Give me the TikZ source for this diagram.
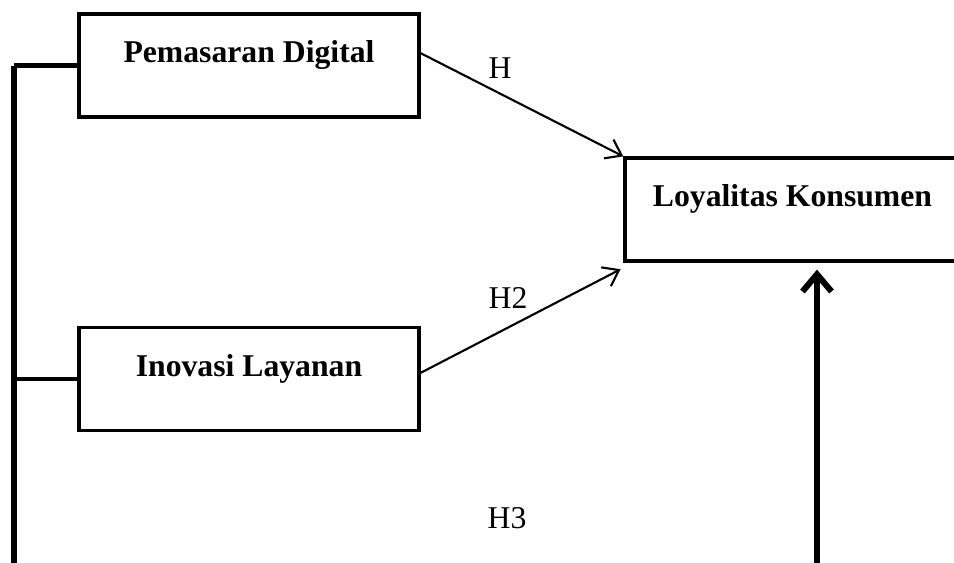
\documentclass[tikz,border=0pt]{standalone}
\usepackage{fontspec}
\setmainfont{Liberation Serif}
\usetikzlibrary{arrows.meta,calc}

\begin{document}
\begin{tikzpicture}[x=0.0133cm,y=-0.0133cm,
    every node/.style={font=\large},
    varbox/.style={draw,line width=1.25pt,minimum height=1.37cm,
      font=\large\bfseries,text height=8pt,text depth=10pt},
    bus/.style={line width=2.3pt},
    link/.style={line width=1.7pt},
    hyparrow/.style={line width=0.8pt,-{Straight Barb[length=5.5pt,width=8pt]}},
    mainarrow/.style={line width=2.3pt,-{Straight Barb[length=6.5pt,width=11pt]}}]
  \clip (0,0) rectangle (954,563);
  % variabel
  \node[varbox,minimum width=4.52cm] (pd) at (249,65.5) {Pemasaran Digital};
  \node[varbox,minimum width=4.52cm] (il) at (249,379) {Inovasi Layanan};
  \node[varbox,minimum width=4.46cm] (lk) at (792.5,209.5) {Loyalitas Konsumen};
  % garis kiri
  \coordinate (bustop) at (14,65.5);
  \coordinate (busend) at (14,563);
  \draw[bus] (bustop) -- (busend);
  \draw[link] (bustop) -- (pd.west);
  \draw[link] (busend |- il.west) -- (il.west);
  % hipotesis
  \draw[hyparrow] ([yshift=4.7pt]pd.east) -- (lk.north west);
  \draw[hyparrow] ([yshift=2.3pt]il.east) -- ([xshift=-1pt,yshift=-2.5pt]lk.south west);
  \coordinate (lkbase) at (817,563);
  \draw[mainarrow] (lkbase) -- ($(lkbase |- lk.south)+(0,7)$);
  \node (h1) at (500,68) {H};
  \node (h2) at (508,298) {H2};
  \node (h3) at (507,518) {H3};
\end{tikzpicture}
\end{document}
